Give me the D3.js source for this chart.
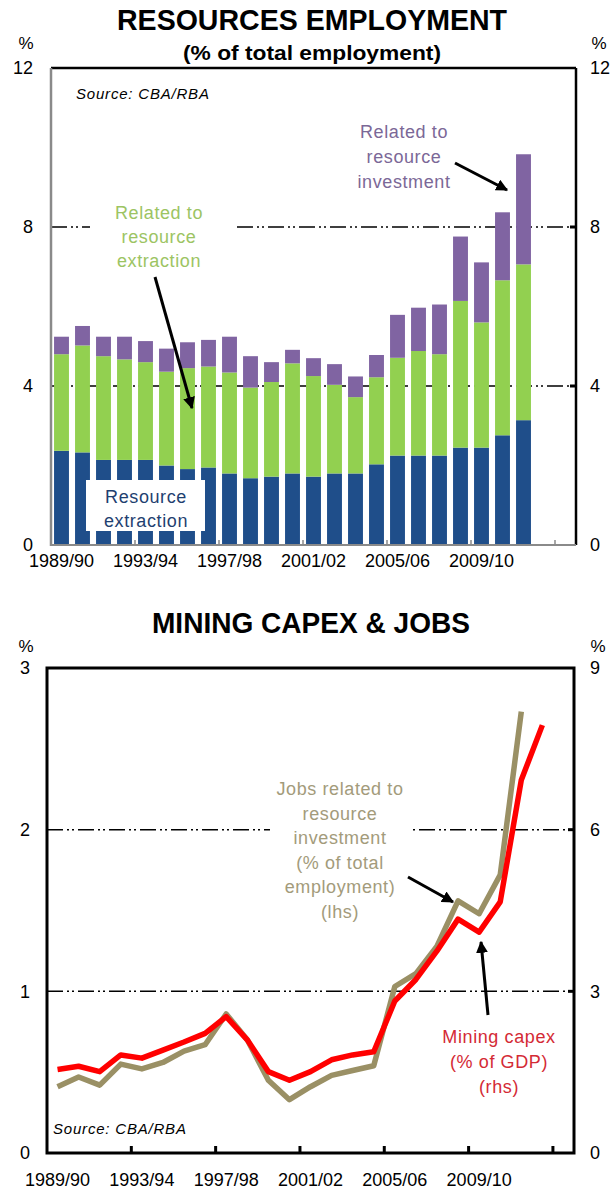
<!DOCTYPE html>
<html>
<head>
<meta charset="utf-8">
<script src="https://cdn.jsdelivr.net/npm/d3@7"></script>
<style>
  body { margin: 0; background: #fff; }
  svg { display: block; font-family: "Liberation Sans", Arial, sans-serif; }
</style>
</head>
<body>
<div id="chart"></div>
<script>
// financial years on both x axes (last two slots are empty)
const years = ["1989/90", "1990/91", "1991/92", "1992/93", "1993/94", "1994/95", "1995/96",
  "1996/97", "1997/98", "1998/99", "1999/00", "2000/01", "2001/02", "2002/03", "2003/04",
  "2004/05", "2005/06", "2006/07", "2007/08", "2008/09", "2009/10", "2010/11", "2011/12",
  "2012/13", "2013/14"];
const yearLabels = ["1989/90", "1993/94", "1997/98", "2001/02", "2005/06", "2009/10"];

// top chart: % of total employment, stacked
const extraction = [2.37, 2.33, 2.14, 2.14, 2.14, 2.00, 1.91, 1.95, 1.80, 1.68, 1.72, 1.80,
  1.72, 1.80, 1.80, 2.03, 2.25, 2.25, 2.25, 2.45, 2.45, 2.76, 3.14];
const relatedExtraction = [2.43, 2.69, 2.61, 2.53, 2.46, 2.36, 2.54, 2.54, 2.54, 2.28, 2.38,
  2.77, 2.53, 2.23, 1.92, 2.19, 2.46, 2.63, 2.55, 3.69, 3.15, 3.90, 3.92];
const relatedInvestment = [0.44, 0.49, 0.49, 0.57, 0.53, 0.58, 0.65, 0.67, 0.90, 0.79, 0.50,
  0.34, 0.45, 0.52, 0.52, 0.56, 1.08, 1.09, 1.25, 1.62, 1.51, 1.71, 2.77];
const topTicks = [0, 4, 8, 12];

// bottom chart
const jobsInvestment = [0.41, 0.47, 0.42, 0.55, 0.52, 0.56, 0.63, 0.67, 0.86, 0.70, 0.45,
  0.33, 0.41, 0.48, 0.51, 0.54, 1.03, 1.11, 1.28, 1.56, 1.48, 1.72, 2.73];   // lhs
const miningCapex = [1.55, 1.61, 1.51, 1.82, 1.76, 1.91, 2.06, 2.22, 2.53, 2.10, 1.51, 1.35,
  1.51, 1.73, 1.82, 1.88, 2.82, 3.22, 3.75, 4.34, 4.10, 4.66, 6.92, 7.94];   // rhs
const lhsTicks = [0, 1, 2, 3];
const rhsTicks = [0, 3, 6, 9];

const W = 612, H = 1200;
const svg = d3.select("#chart").append("svg")
  .attr("width", W).attr("height", H);

svg.append("defs").append("marker")
  .attr("id", "head")
  .attr("viewBox", "0 0 10 10")
  .attr("refX", 9).attr("refY", 5)
  .attr("markerWidth", 4).attr("markerHeight", 4)
  .attr("orient", "auto")
  .append("path").attr("d", "M0,0 L10,5 L0,10 Z").attr("fill", "#000");

const dashGrid = "16 4 2 3 2 4";
const fmt = d3.format("d");

function title(txt, x, y, size, len) {
  svg.append("text").attr("x", x).attr("y", y)
    .attr("text-anchor", "middle").attr("font-weight", "bold")
    .attr("font-size", size).attr("textLength", len).attr("lengthAdjust", "spacingAndGlyphs")
    .text(txt);
}

function multiline(lines, x, y, gap, color, size) {
  const t = svg.append("text").attr("x", x).attr("y", y)
    .attr("text-anchor", "middle").attr("fill", color).attr("font-size", size)
    .attr("letter-spacing", 0.6);
  lines.forEach((l, i) => t.append("tspan").attr("x", x).attr("dy", i ? gap : 0).text(l));
}

function arrow(x1, y1, x2, y2) {
  svg.append("line").attr("x1", x1).attr("y1", y1).attr("x2", x2).attr("y2", y2)
    .attr("stroke", "#000").attr("stroke-width", 3).attr("marker-end", "url(#head)");
}

//////// TOP CHART ////////
const t = { left: 51, right: 576, top: 68, bottom: 545 };
const xTop = d3.scaleBand().domain(years).range([t.left, t.right])
  .paddingInner(0.29).paddingOuter(0.145);
const yTop = d3.scaleLinear().domain([0, 12]).range([t.bottom, t.top]);

title("RESOURCES EMPLOYMENT", 312, 30, 30, 390);
title("(% of total employment)", 312, 60, 20, 258);

svg.append("text").attr("x", 26).attr("y", 49).attr("text-anchor", "middle")
  .attr("font-size", 17).text("%");
svg.append("text").attr("x", 599).attr("y", 49).attr("text-anchor", "middle")
  .attr("font-size", 17).text("%");

// gridlines
svg.append("g").selectAll("line")
  .data([4, 8]).join("line")
  .attr("x1", t.left).attr("x2", t.right)
  .attr("y1", d => yTop(d)).attr("y2", d => yTop(d))
  .attr("stroke", "#000").attr("stroke-width", 1.5)
  .attr("stroke-dasharray", dashGrid);

// stacked bars
const rows = extraction.map((v, i) => ({
  year: years[i], extraction: v,
  relatedExtraction: relatedExtraction[i], relatedInvestment: relatedInvestment[i]
}));
const keys = ["extraction", "relatedExtraction", "relatedInvestment"];
const colors = { extraction: "#1f4e8a", relatedExtraction: "#92d050", relatedInvestment: "#8064a2" };
const stacked = d3.stack().keys(keys)(rows);

svg.append("g").selectAll("g")
  .data(stacked).join("g")
  .attr("fill", d => colors[d.key])
  .selectAll("rect")
  .data(d => d).join("rect")
  .attr("x", d => xTop(d.data.year))
  .attr("width", xTop.bandwidth())
  .attr("y", d => yTop(d[1]))
  .attr("height", d => yTop(d[0]) - yTop(d[1]));

// frame
svg.append("line").attr("x1", t.left).attr("x2", t.right).attr("y1", t.top).attr("y2", t.top)
  .attr("stroke", "#000").attr("stroke-width", 2.5);
svg.append("line").attr("x1", t.right).attr("x2", t.right).attr("y1", t.top).attr("y2", t.bottom)
  .attr("stroke", "#000").attr("stroke-width", 2.5);
svg.append("line").attr("x1", t.left).attr("x2", t.left).attr("y1", t.top).attr("y2", t.bottom + 1)
  .attr("stroke", "#8a8a8a").attr("stroke-width", 2.5);
svg.append("line").attr("x1", t.left).attr("x2", t.right).attr("y1", t.bottom).attr("y2", t.bottom)
  .attr("stroke", "#8a8a8a").attr("stroke-width", 2);

// small ticks
svg.append("g").selectAll("line")
  .data([4, 8]).join("line")
  .attr("x1", t.right - 6).attr("x2", t.right)
  .attr("y1", d => yTop(d)).attr("y2", d => yTop(d))
  .attr("stroke", "#000").attr("stroke-width", 3);
svg.append("g").selectAll("line")
  .data(years.filter((d, i) => i % 4 === 0 && i > 0)).join("line")
  .attr("x1", d => xTop(d) - xTop.step() * xTop.paddingInner() / 2)
  .attr("x2", d => xTop(d) - xTop.step() * xTop.paddingInner() / 2)
  .attr("y1", t.bottom).attr("y2", t.bottom - 5)
  .attr("stroke", "#8a8a8a").attr("stroke-width", 1.5);

// axes
const axL = svg.append("g").attr("transform", `translate(${t.left},0)`)
  .call(d3.axisLeft(yTop).tickValues(topTicks).tickFormat(fmt).tickSize(0).tickPadding(18));
const axR = svg.append("g").attr("transform", `translate(${t.right},0)`)
  .call(d3.axisRight(yTop).tickValues(topTicks).tickFormat(fmt).tickSize(0).tickPadding(14));
const axB = svg.append("g").attr("transform", `translate(0,${t.bottom})`)
  .call(d3.axisBottom(xTop).tickValues(yearLabels).tickSize(0).tickPadding(9));
[axL, axR, axB].forEach(a => {
  a.select(".domain").remove();
  a.selectAll("text").attr("font-size", 18).attr("fill", "#000")
    .attr("font-family", '"Liberation Sans", Arial, sans-serif');
});

// annotations
svg.append("text").attr("x", 76).attr("y", 99).attr("font-size", 15)
  .attr("font-style", "italic").attr("letter-spacing", 0.8).text("Source: CBA/RBA");

multiline(["Related to", "resource", "investment"], 404, 138, 25, "#7b6897", 18);
arrow(455, 163, 507, 190);

svg.append("rect").attr("x", 90).attr("y", 196).attr("width", 143).attr("height", 74).attr("fill", "#fff");
multiline(["Related to", "resource", "extraction"], 159, 219, 24, "#9cc463", 18);
arrow(155, 277, 192, 408);

svg.append("rect").attr("x", 86).attr("y", 480).attr("width", 119).attr("height", 51).attr("fill", "#fff");
multiline(["Resource", "extraction"], 146, 503, 24, "#1f3f70", 18);

//////// BOTTOM CHART ////////
const b = { left: 47, right: 574, top: 668, bottom: 1153 };
const xBot = d3.scaleBand().domain(years).range([b.left, b.right]);
const yL = d3.scaleLinear().domain([0, 3]).range([b.bottom, b.top]);
const yR = d3.scaleLinear().domain([0, 9]).range([b.bottom, b.top]);
const cx = i => xBot(years[i]) + xBot.bandwidth() / 2;

title("MINING CAPEX & JOBS", 311, 633, 30, 318);
svg.append("text").attr("x", 26).attr("y", 652).attr("text-anchor", "middle")
  .attr("font-size", 17).text("%");
svg.append("text").attr("x", 598).attr("y", 652).attr("text-anchor", "middle")
  .attr("font-size", 17).text("%");

svg.append("g").selectAll("line")
  .data([1, 2]).join("line")
  .attr("x1", b.left).attr("x2", b.right)
  .attr("y1", d => yL(d)).attr("y2", d => yL(d))
  .attr("stroke", "#000").attr("stroke-width", 1.5)
  .attr("stroke-dasharray", dashGrid);

// white box for the jobs label over the 2% gridline
svg.append("rect").attr("x", 270).attr("y", 772).attr("width", 140).attr("height", 150).attr("fill", "#fff");

svg.append("path")
  .datum(jobsInvestment)
  .attr("fill", "none").attr("stroke", "#9a9065").attr("stroke-width", 5.5)
  .attr("stroke-linejoin", "round")
  .attr("d", d3.line().x((d, i) => cx(i)).y(d => yL(d)));
svg.append("path")
  .datum(miningCapex)
  .attr("fill", "none").attr("stroke", "#ff0000").attr("stroke-width", 5.5)
  .attr("stroke-linejoin", "round")
  .attr("d", d3.line().x((d, i) => cx(i)).y(d => yR(d)));

svg.append("rect").attr("x", b.left).attr("y", b.top)
  .attr("width", b.right - b.left).attr("height", b.bottom - b.top)
  .attr("fill", "none").attr("stroke", "#000").attr("stroke-width", 3);

svg.append("g").selectAll("line")
  .data([1, 2]).join("line")
  .attr("x1", b.right - 6).attr("x2", b.right)
  .attr("y1", d => yL(d)).attr("y2", d => yL(d))
  .attr("stroke", "#000").attr("stroke-width", 3);
svg.append("g").selectAll("line")
  .data(years.filter((d, i) => i % 4 === 0 && i > 0)).join("line")
  .attr("x1", d => xBot(d)).attr("x2", d => xBot(d))
  .attr("y1", b.bottom).attr("y2", b.bottom - 7)
  .attr("stroke", "#000").attr("stroke-width", 3);

const bL = svg.append("g").attr("transform", `translate(${b.left},0)`)
  .call(d3.axisLeft(yL).tickValues(lhsTicks).tickFormat(fmt).tickSize(0).tickPadding(17));
const bR = svg.append("g").attr("transform", `translate(${b.right},0)`)
  .call(d3.axisRight(yR).tickValues(rhsTicks).tickFormat(fmt).tickSize(0).tickPadding(16));
const bB = svg.append("g").attr("transform", `translate(0,${b.bottom})`)
  .call(d3.axisBottom(xBot).tickValues(yearLabels).tickSize(0).tickPadding(20));
[bL, bR, bB].forEach(a => {
  a.select(".domain").remove();
  a.selectAll("text").attr("font-size", 18).attr("fill", "#000")
    .attr("font-family", '"Liberation Sans", Arial, sans-serif');
});

svg.append("text").attr("x", 53).attr("y", 1134).attr("font-size", 15)
  .attr("font-style", "italic").attr("letter-spacing", 0.8).text("Source: CBA/RBA");

multiline(["Jobs related to", "resource", "investment", "(% of total", "employment)", "(lhs)"],
  340, 795, 24.5, "#a39b7b", 18);
arrow(408, 877, 453, 902);

multiline(["Mining capex", "(% of GDP)", "(rhs)"], 499, 1043, 25, "#d42a35", 18);
arrow(488, 1015, 481, 942);
</script>
</body>
</html>
